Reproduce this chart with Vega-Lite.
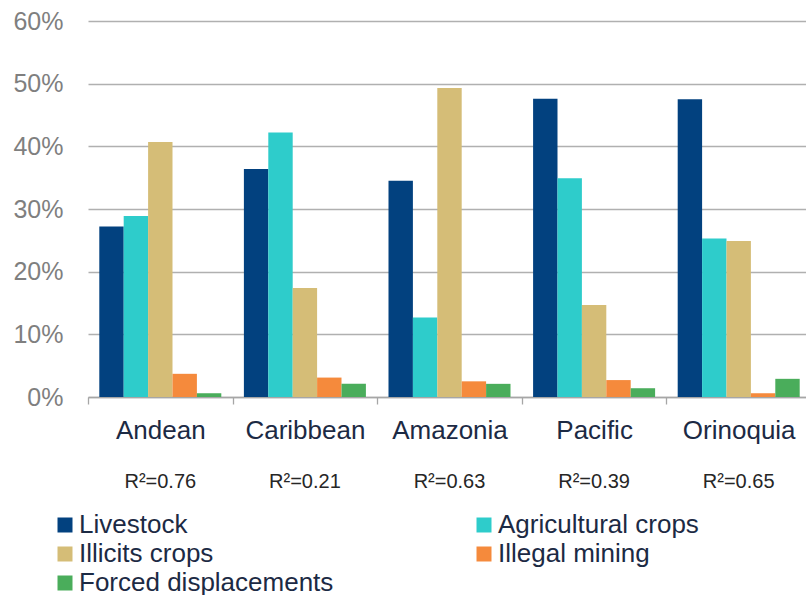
{
  "$schema": "https://vega.github.io/schema/vega-lite/v6.json",
  "width": 723,
  "height": 376,
  "autosize": {"type": "none"},
  "padding": {"left": 88, "top": 21, "right": 0, "bottom": 198},
  "background": "white",
  "config": {"view": {"stroke": null}, "font": "Liberation Sans"},
  "data": {
    "values": [
      {"region": "Andean", "r2": "R²=0.76", "cause": "Livestock", "share": 0.272},
      {"region": "Andean", "r2": "R²=0.76", "cause": "Agricultural crops", "share": 0.289},
      {"region": "Andean", "r2": "R²=0.76", "cause": "Illicits crops", "share": 0.407},
      {"region": "Andean", "r2": "R²=0.76", "cause": "Illegal mining", "share": 0.037},
      {"region": "Andean", "r2": "R²=0.76", "cause": "Forced displacements", "share": 0.006},
      {"region": "Caribbean", "r2": "R²=0.21", "cause": "Livestock", "share": 0.364},
      {"region": "Caribbean", "r2": "R²=0.21", "cause": "Agricultural crops", "share": 0.422},
      {"region": "Caribbean", "r2": "R²=0.21", "cause": "Illicits crops", "share": 0.174},
      {"region": "Caribbean", "r2": "R²=0.21", "cause": "Illegal mining", "share": 0.031},
      {"region": "Caribbean", "r2": "R²=0.21", "cause": "Forced displacements", "share": 0.021},
      {"region": "Amazonia", "r2": "R²=0.63", "cause": "Livestock", "share": 0.345},
      {"region": "Amazonia", "r2": "R²=0.63", "cause": "Agricultural crops", "share": 0.127},
      {"region": "Amazonia", "r2": "R²=0.63", "cause": "Illicits crops", "share": 0.493},
      {"region": "Amazonia", "r2": "R²=0.63", "cause": "Illegal mining", "share": 0.025},
      {"region": "Amazonia", "r2": "R²=0.63", "cause": "Forced displacements", "share": 0.021},
      {"region": "Pacific", "r2": "R²=0.39", "cause": "Livestock", "share": 0.476},
      {"region": "Pacific", "r2": "R²=0.39", "cause": "Agricultural crops", "share": 0.349},
      {"region": "Pacific", "r2": "R²=0.39", "cause": "Illicits crops", "share": 0.147},
      {"region": "Pacific", "r2": "R²=0.39", "cause": "Illegal mining", "share": 0.027},
      {"region": "Pacific", "r2": "R²=0.39", "cause": "Forced displacements", "share": 0.014},
      {"region": "Orinoquia", "r2": "R²=0.65", "cause": "Livestock", "share": 0.475},
      {"region": "Orinoquia", "r2": "R²=0.65", "cause": "Agricultural crops", "share": 0.253},
      {"region": "Orinoquia", "r2": "R²=0.65", "cause": "Illicits crops", "share": 0.249},
      {"region": "Orinoquia", "r2": "R²=0.65", "cause": "Illegal mining", "share": 0.006},
      {"region": "Orinoquia", "r2": "R²=0.65", "cause": "Forced displacements", "share": 0.029}
    ]
  },
  "layer": [
    {
      "mark": {"type": "bar"},
      "encoding": {
        "x": {
          "field": "region",
          "type": "nominal",
          "sort": null,
          "scale": {"paddingInner": 0, "paddingOuter": 0},
          "axis": {
            "orient": "bottom",
            "title": null,
            "labelAngle": 0,
            "labelFont": "Liberation Sans",
            "labelFontSize": 26,
            "labelColor": "#1c2a44",
            "labelBaseline": "top",
            "labelPadding": 13,
            "labelLimit": 0,
            "tickBand": "extent",
            "tickSize": 7,
            "tickColor": "#a6a6a6",
            "tickWidth": 1.3,
            "domainColor": "#a6a6a6",
            "domainWidth": 1.5,
            "grid": false
          }
        },
        "xOffset": {
          "field": "cause",
          "type": "nominal",
          "sort": ["Livestock", "Agricultural crops", "Illicits crops", "Illegal mining", "Forced displacements"],
          "scale": {"paddingInner": 0, "paddingOuter": 0.463}
        },
        "y": {
          "field": "share",
          "type": "quantitative",
          "scale": {"domain": [0, 0.6]},
          "axis": {
            "title": null,
            "values": [0, 0.1, 0.2, 0.3, 0.4, 0.5, 0.6],
            "format": ".0%",
            "domain": false,
            "ticks": false,
            "labelPadding": 25,
            "labelFont": "Liberation Sans",
            "labelFontSize": 25,
            "labelColor": "#7f7f7f",
            "gridColor": "#b0b0b0",
            "gridWidth": 1.3
          }
        },
        "color": {
          "field": "cause",
          "type": "nominal",
          "scale": {
            "domain": ["Livestock", "Agricultural crops", "Illicits crops", "Illegal mining", "Forced displacements"],
            "range": ["#02417f", "#2ecccb", "#d5bd77", "#f58a3c", "#4aad5b"]
          },
          "legend": {
            "title": null,
            "orient": "none",
            "direction": "horizontal",
            "legendX": -36,
            "legendY": 491,
            "columns": 2,
            "symbolType": "square",
            "symbolSize": 225,
            "symbolStrokeWidth": 0,
            "labelFont": "Liberation Sans",
            "labelFontSize": 26,
            "labelColor": "#1c2a44",
            "labelOffset": 1,
            "labelLimit": 0,
            "columnPadding": 137,
            "rowPadding": 3,
            "padding": 0
          }
        }
      }
    },
    {
      "mark": {"type": "tick", "opacity": 0},
      "encoding": {
        "x": {
          "field": "r2",
          "type": "nominal",
          "sort": null,
          "scale": {"paddingInner": 0, "paddingOuter": 0},
          "axis": {
            "orient": "bottom",
            "title": null,
            "labelAngle": 0,
            "labelFont": "Liberation Sans",
            "labelFontSize": 20,
            "labelColor": "#262626",
            "labelBaseline": "alphabetic",
            "labelPadding": 90,
            "ticks": false,
            "tickSize": 0,
            "domain": false,
            "grid": false
          }
        }
      }
    }
  ],
  "resolve": {"scale": {"x": "independent"}, "axis": {"x": "independent"}}
}
